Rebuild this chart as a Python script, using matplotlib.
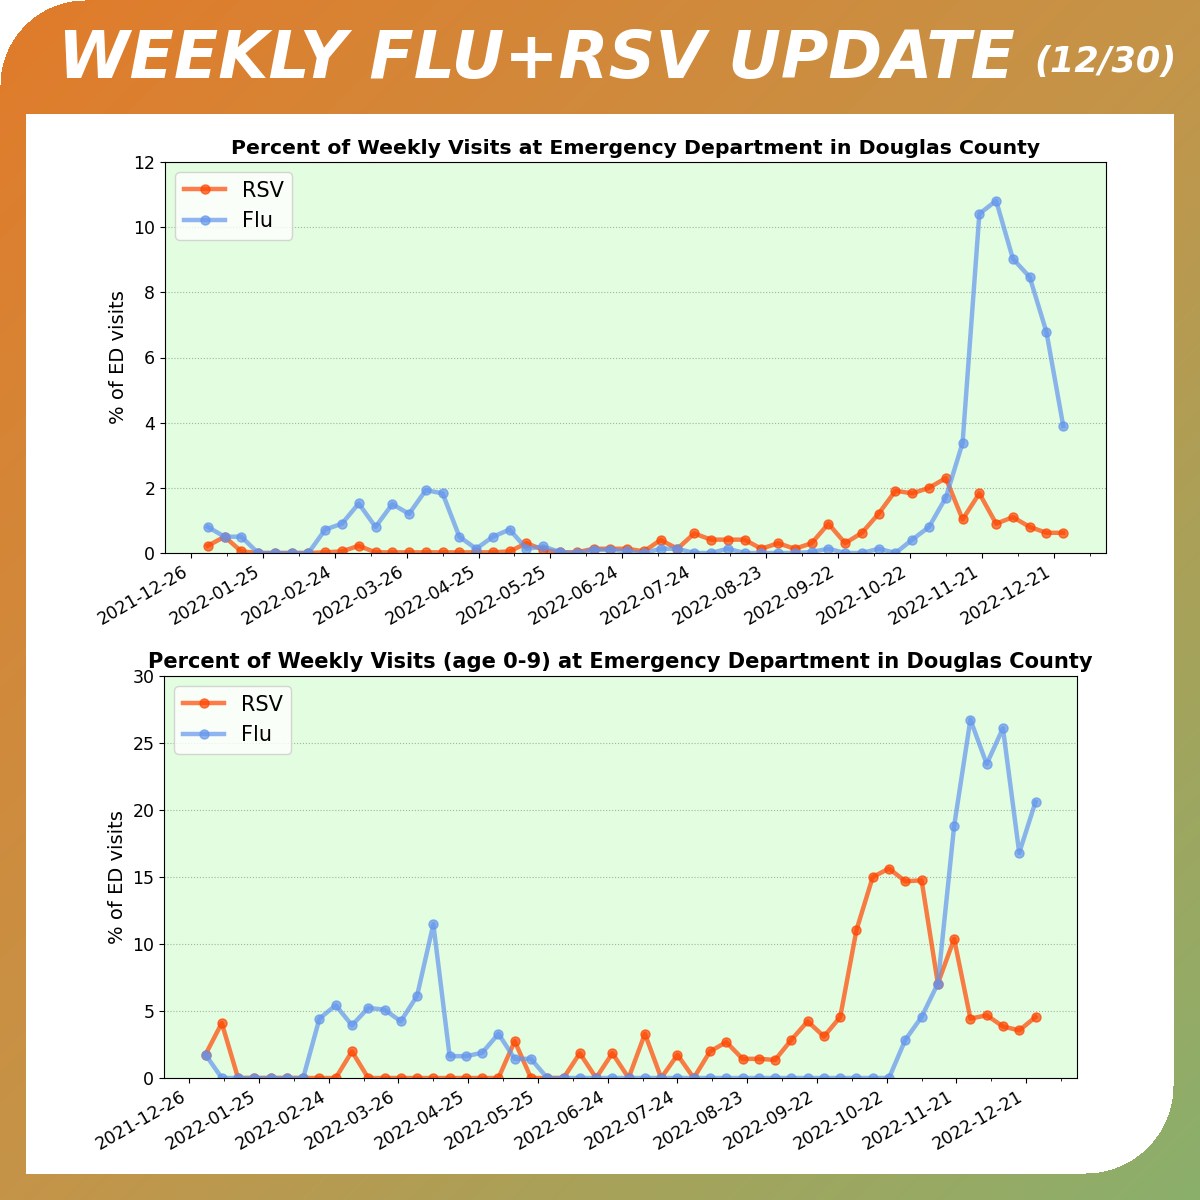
import numpy as np
import pandas as pd
import matplotlib
matplotlib.use("Agg")
import matplotlib.pyplot as plt
import matplotlib.dates as mdates

# weekly data, Douglas County ED visits
weeks = pd.date_range("2022-01-02", periods=52, freq="7D")

rsv_all = [0.22, 0.5, 0.05, 0, 0, 0, 0, 0.02, 0.05, 0.22,
           0.02, 0.02, 0.02, 0.02, 0.02, 0.02, 0.02, 0.02, 0.05, 0.3,
           0.1, 0.02, 0.02, 0.13, 0.13, 0.13, 0.05, 0.4, 0.13, 0.6,
           0.41, 0.41, 0.41, 0.13, 0.3, 0.13, 0.3, 0.9, 0.3, 0.62,
           1.21, 1.91, 1.83, 2.0, 2.3, 1.03, 1.83, 0.9, 1.1, 0.8,
           0.62, 0.62]
flu_all = [0.8, 0.5, 0.5, 0, 0, 0, 0, 0.72, 0.9, 1.52,
           0.8, 1.5, 1.2, 1.93, 1.83, 0.5, 0.13, 0.5, 0.72, 0.13,
           0.2, 0.03, 0, 0.1, 0.1, 0.05, 0, 0.13, 0.13, 0,
           0, 0.13, 0, 0, 0, 0, 0.03, 0.13, 0, 0,
           0.13, 0, 0.41, 0.8, 1.7, 3.38, 10.41, 10.81, 9.03, 8.47,
           6.78, 3.9]

rsv_kids = [1.75, 4.1, 0, 0, 0, 0, 0, 0, 0, 1.98,
            0, 0, 0, 0, 0, 0, 0, 0, 0, 2.75,
            0, 0, 0, 1.85, 0, 1.85, 0, 3.3, 0, 1.73,
            0, 1.98, 2.68, 1.43, 1.43, 1.35, 2.85, 4.23, 3.1, 4.55,
            11.05, 15.0, 15.63, 14.68, 14.75, 7.05, 10.38, 4.43, 4.68, 3.85,
            3.55, 4.55]
flu_kids = [1.75, 0, 0, 0, 0, 0, 0, 4.43, 5.43, 3.93,
            5.23, 5.1, 4.23, 6.13, 11.48, 1.63, 1.63, 1.88, 3.3, 1.43,
            1.43, 0, 0, 0, 0, 0, 0, 0, 0, 0,
            0, 0, 0, 0, 0, 0, 0, 0, 0, 0,
            0, 0, 0, 2.85, 4.55, 7.05, 18.8, 26.75, 23.43, 26.1,
            16.8, 20.6]

major_ticks = pd.date_range("2021-12-26", periods=13, freq="30D")
minor_ticks = pd.date_range("2022-01-10", periods=13, freq="30D")

title_all = "Percent of Weekly Visits at Emergency Department in Douglas County"
title_kids = "Percent of Weekly Visits (age 0-9) at Emergency Department in Douglas County"

W = H = 1200
fig = plt.figure(figsize=(12, 12), dpi=100)
fig.patch.set_facecolor("white")

# gradient frame with white panel
yy, xx = np.mgrid[0:H, 0:W]
t = (xx + yy) / (W + H - 2)
stops = np.array([[225, 123, 42], [197, 148, 72], [138, 176, 108]]) / 255
bg = np.empty((H, W, 3))
for k in range(3):
    bg[..., k] = np.interp(t, [0, 0.5, 1], stops[:, k])
r = 85
bg[(xx < r) & (yy < r) & ((xx - r) ** 2 + (yy - r) ** 2 > r ** 2)] = 1
panel = (xx >= 26) & (xx <= 1173) & (yy >= 114) & (yy <= 1173)
r2 = 88
cx, cy = 1173 - r2, 1173 - r2
panel &= ~((xx > cx) & (yy > cy) & ((xx - cx) ** 2 + (yy - cy) ** 2 > r2 ** 2))
bg[panel] = 1

bg_ax = fig.add_axes([0, 0, 1, 1])
bg_ax.imshow(bg, aspect="auto", interpolation="bilinear")
bg_ax.axis("off")

head = fig.text(58 / W, 1 - 60 / H, "WEEKLY FLU+RSV UPDATE", color="white",
                fontsize=48, fontweight="heavy", style="oblique",
                family="DejaVu Sans", va="center", ha="left")
date_txt = fig.text(1177 / W, 1 - 62 / H, "(12/30)", color="white",
                    fontsize=30, fontweight="heavy", style="oblique",
                    family="DejaVu Sans", va="center", ha="right")

# fit header widths to the banner
renderer = fig.canvas.get_renderer()
for txt, target in [(head, 957), (date_txt, 142)]:
    w = txt.get_window_extent(renderer).width
    txt.set_fontsize(txt.get_fontsize() * target / w)


def draw_chart(rect, rsv, flu, title, ymax, ystep, title_size):
    ax = fig.add_axes(rect)
    ax.set_facecolor("#e2fde0")
    ax.plot(weeks, rsv, color="orangered", alpha=0.7, lw=3.2,
            marker="o", ms=6.5, label="RSV")
    ax.plot(weeks, flu, color="cornflowerblue", alpha=0.7, lw=3.2,
            marker="o", ms=6.5, label="Flu")
    ax.set_ylim(0, ymax)
    ax.set_yticks(np.arange(0, ymax + 1, ystep))
    ax.set_xticks(major_ticks)
    ax.set_xticks(minor_ticks, minor=True)
    ax.xaxis.set_major_formatter(mdates.DateFormatter("%Y-%m-%d"))
    plt.setp(ax.get_xticklabels(), rotation=30, ha="right")
    ax.tick_params(labelsize=12.5)
    ax.grid(axis="y", linestyle=":", color="gray", alpha=0.6)
    ax.set_ylabel("% of ED visits", fontsize=14)
    ax.set_title(title, fontweight="bold", fontsize=title_size)
    ax.legend(loc="upper left", fontsize=15)
    return ax


draw_chart([165 / W, 1 - 553 / H, 941 / W, 391 / H], rsv_all, flu_all,
           title_all, 12, 2, 14.7)
draw_chart([164 / W, 1 - 1078 / H, 913 / W, 402 / H], rsv_kids, flu_kids,
           title_kids, 30, 5, 15.1)

fig.savefig("out.png", dpi=100)
